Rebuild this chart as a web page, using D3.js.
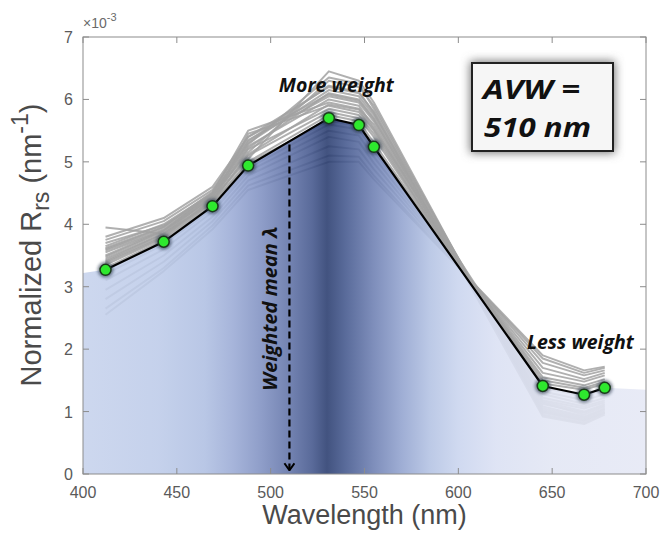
<!DOCTYPE html>
<html>
<head>
<meta charset="utf-8">
<script src="https://cdn.jsdelivr.net/npm/d3@7"></script>
<style>
body { margin: 0; background: #fff; }
</style>
</head>
<body>
<div id="chart"></div>
<script>
// MODIS-like bands (nm) and the mean normalized spectrum (x 1e-3 nm^-1)
var bands = [412, 443, 469, 488, 531, 547, 555, 645, 667, 678];
var meanRrs = [3.27, 3.72, 4.29, 4.94, 5.70, 5.59, 5.24, 1.41, 1.27, 1.38];
// flat shading continued to the plot edges
var edgeWavelengths = [400, 700];
var edgeValues = [3.22, 1.35];

// individual normalized spectra, grey lines
var spectra = [
  [3.38, 3.80, 4.40, 5.05, 6.45, 6.30, 5.95, 0.95, 0.82, 0.98],
  [3.45, 3.85, 4.45, 5.15, 6.30, 6.20, 5.90, 0.98, 0.85, 1.00],
  [3.55, 3.90, 4.50, 5.50, 5.95, 5.85, 5.60, 1.12, 0.98, 1.10],
  [3.95, 3.85, 4.35, 5.45, 5.90, 5.80, 5.50, 1.18, 1.05, 1.15],
  [3.75, 4.05, 4.55, 5.35, 6.05, 5.95, 5.65, 1.08, 0.92, 1.05],
  [3.65, 4.00, 4.50, 5.30, 6.15, 6.05, 5.75, 1.02, 0.88, 1.02],
  [3.60, 3.95, 4.45, 5.25, 6.00, 5.90, 5.55, 1.22, 1.08, 1.18],
  [3.50, 3.90, 4.40, 5.20, 5.85, 5.75, 5.45, 1.28, 1.12, 1.22],
  [3.42, 3.85, 4.38, 5.10, 5.80, 5.70, 5.40, 1.32, 1.18, 1.28],
  [3.80, 4.10, 4.60, 5.40, 6.20, 6.10, 5.80, 0.92, 0.80, 0.95],
  [3.35, 3.78, 4.35, 5.00, 5.75, 5.65, 5.30, 1.45, 1.35, 1.45],
  [3.20, 3.68, 4.25, 4.90, 5.60, 5.52, 5.18, 1.55, 1.42, 1.52],
  [3.10, 3.60, 4.20, 4.85, 5.50, 5.42, 5.08, 1.62, 1.48, 1.58],
  [2.95, 3.50, 4.12, 4.78, 5.40, 5.32, 4.98, 1.70, 1.52, 1.62],
  [2.80, 3.40, 4.05, 4.70, 5.25, 5.20, 4.88, 1.78, 1.58, 1.66],
  [2.65, 3.30, 3.98, 4.62, 5.10, 5.08, 4.78, 1.85, 1.62, 1.70],
  [2.55, 3.25, 3.92, 4.55, 5.00, 5.00, 4.72, 1.90, 1.66, 1.72],
  [3.70, 3.98, 4.48, 5.28, 6.35, 6.25, 5.85, 1.00, 0.86, 0.98],
  [3.58, 3.92, 4.42, 5.22, 6.10, 6.00, 5.70, 1.05, 0.90, 1.04],
  [3.48, 3.88, 4.47, 5.33, 6.22, 6.12, 5.78, 1.14, 0.95, 1.08],
  [3.62, 3.96, 4.52, 5.40, 6.08, 5.98, 5.68, 1.16, 1.00, 1.12],
  [3.40, 3.82, 4.36, 5.12, 5.92, 5.84, 5.52, 1.38, 1.25, 1.36],
  [3.30, 3.75, 4.32, 4.98, 5.66, 5.58, 5.24, 1.50, 1.38, 1.48]
];

var xTicks = [400, 450, 500, 550, 600, 650, 700];
var yTicks = [0, 1, 2, 3, 4, 5, 6, 7];
var avw = 510;

// shading colours across the spectrum (style)
var shadeStops = [
  [400, "#c6d2ec"], [440, "#bdcbe9"], [465, "#afbfe2"], [480, "#9aaad5"],
  [495, "#7f90c1"], [510, "#6072a7"], [522, "#43568c"], [530, "#283b6e"],
  [540, "#43578d"], [555, "#6d7fb2"], [570, "#92a3cf"], [585, "#b3c2e3"],
  [600, "#c9d4ee"], [620, "#dae0f3"], [650, "#e2e6f4"], [700, "#e5e8f5"]
];

var W = 662, H = 539;
var margin = {top: 37, right: 16, bottom: 65, left: 83};
var width = W - margin.left - margin.right,
    height = H - margin.top - margin.bottom;

var x = d3.scaleLinear().domain([400, 700]).range([0, width]);
var y = d3.scaleLinear().domain([0, 7]).range([height, 0]);

var svg = d3.select("#chart").append("svg")
    .attr("width", W)
    .attr("height", H);

var defs = svg.append("defs");

var grad = defs.append("linearGradient")
    .attr("id", "shade")
    .attr("gradientUnits", "userSpaceOnUse")
    .attr("x1", x(400)).attr("x2", x(700))
    .attr("y1", 0).attr("y2", 0);
grad.selectAll("stop").data(shadeStops).enter().append("stop")
    .attr("offset", function(d) { return (d[0] - 400) / 300; })
    .attr("stop-color", function(d) { return d[1]; });

defs.append("clipPath").attr("id", "plotclip")
  .append("rect").attr("width", width).attr("height", height);

var halo = defs.append("filter").attr("id", "halo")
    .attr("x", "-60%").attr("y", "-60%").attr("width", "220%").attr("height", "220%");
halo.append("feGaussianBlur").attr("stdDeviation", 1.6);

var glow = defs.append("filter").attr("id", "glow")
    .attr("x", "-20%").attr("y", "-30%").attr("width", "140%").attr("height", "160%");
glow.append("feGaussianBlur").attr("stdDeviation", 5);

defs.append("marker")
    .attr("id", "arrow")
    .attr("viewBox", "0 0 12 12")
    .attr("refX", 6).attr("refY", 11)
    .attr("markerWidth", 12).attr("markerHeight", 12)
    .attr("markerUnits", "userSpaceOnUse")
    .attr("orient", "0")
  .append("path")
    .attr("d", "M1,4 L6,11 L11,4")
    .attr("fill", "none")
    .attr("stroke", "#000")
    .attr("stroke-width", 2);

var g = svg.append("g")
    .attr("transform", "translate(" + margin.left + "," + margin.top + ")");

var plot = g.append("g").attr("clip-path", "url(#plotclip)");

var line = d3.line()
    .x(function(d) { return x(d[0]); })
    .y(function(d) { return y(d[1]); });

// grey spectra
plot.selectAll(".spec").data(spectra).enter().append("path")
    .attr("class", "spec")
    .attr("d", function(s) { return line(bands.map(function(b, i) { return [b, s[i]]; })); })
    .attr("fill", "none")
    .attr("stroke", "#a2a2a2")
    .attr("stroke-width", 2)
    .attr("stroke-linejoin", "round")
    .attr("stroke-opacity", 0.85);

// shaded area under mean spectrum
var meanPts = bands.map(function(b, i) { return [b, meanRrs[i]]; });
var areaPts = [[edgeWavelengths[0], edgeValues[0]]].concat(meanPts, [[edgeWavelengths[1], edgeValues[1]]]);
var area = d3.area()
    .x(function(d) { return x(d[0]); })
    .y0(y(0))
    .y1(function(d) { return y(d[1]); });
plot.append("path")
    .datum(areaPts)
    .attr("d", area)
    .attr("fill", "url(#shade)")
    .attr("fill-opacity", 0.88);

// weighted mean arrow
var topAtAvw = d3.scaleLinear().domain([488, 531]).range([4.94, 5.70])(avw);
plot.append("line")
    .attr("x1", x(avw)).attr("x2", x(avw))
    .attr("y1", y(topAtAvw - 0.05)).attr("y2", y(0.06))
    .attr("stroke", "#000")
    .attr("stroke-width", 2.2)
    .attr("stroke-dasharray", "7,4")
    .attr("marker-end", "url(#arrow)");

// mean line and points
plot.append("path")
    .datum(meanPts)
    .attr("d", line)
    .attr("fill", "none")
    .attr("stroke", "#000")
    .attr("stroke-width", 2.2);

plot.selectAll(".halo").data(meanPts).enter().append("circle")
    .attr("cx", function(d) { return x(d[0]); })
    .attr("cy", function(d) { return y(d[1]); })
    .attr("r", 8)
    .attr("fill", "#1d2b40")
    .attr("opacity", 0.55)
    .attr("filter", "url(#halo)");

plot.selectAll(".pt").data(meanPts).enter().append("circle")
    .attr("cx", function(d) { return x(d[0]); })
    .attr("cy", function(d) { return y(d[1]); })
    .attr("r", 5.5)
    .attr("fill", "#2ee82e")
    .attr("stroke", "#1a3a1a")
    .attr("stroke-width", 1.5);

// frame and inward ticks (matlab style)
var frameColor = "#8c8c8c";
g.append("rect")
    .attr("width", width).attr("height", height)
    .attr("fill", "none")
    .attr("stroke", frameColor)
    .attr("stroke-width", 1);

var tickLen = 6;
g.selectAll(".xtb").data(xTicks).enter().append("line")
    .attr("x1", function(d) { return x(d); }).attr("x2", function(d) { return x(d); })
    .attr("y1", height).attr("y2", height - tickLen)
    .attr("stroke", frameColor);
g.selectAll(".xtt").data(xTicks).enter().append("line")
    .attr("x1", function(d) { return x(d); }).attr("x2", function(d) { return x(d); })
    .attr("y1", 0).attr("y2", tickLen)
    .attr("stroke", frameColor);
g.selectAll(".ytl").data(yTicks).enter().append("line")
    .attr("x1", 0).attr("x2", tickLen)
    .attr("y1", function(d) { return y(d); }).attr("y2", function(d) { return y(d); })
    .attr("stroke", frameColor);
g.selectAll(".ytr").data(yTicks).enter().append("line")
    .attr("x1", width).attr("x2", width - tickLen)
    .attr("y1", function(d) { return y(d); }).attr("y2", function(d) { return y(d); })
    .attr("stroke", frameColor);

var tickFont = "'Liberation Sans', Arial, sans-serif";
g.selectAll(".xl").data(xTicks).enter().append("text")
    .attr("x", function(d) { return x(d); })
    .attr("y", height + 24)
    .attr("text-anchor", "middle")
    .attr("font-family", tickFont)
    .attr("font-size", 16)
    .attr("fill", "#5a5a5a")
    .text(function(d) { return d; });
g.selectAll(".yl").data(yTicks).enter().append("text")
    .attr("x", -10)
    .attr("y", function(d) { return y(d) + 6; })
    .attr("text-anchor", "end")
    .attr("font-family", tickFont)
    .attr("font-size", 16)
    .attr("fill", "#5a5a5a")
    .text(function(d) { return d; });

// exponent label
var expo = g.append("text")
    .attr("x", 0).attr("y", -9)
    .attr("font-family", tickFont)
    .attr("font-size", 14)
    .attr("fill", "#6a6a6a");
expo.append("tspan").text("\u00d710");
expo.append("tspan").attr("font-size", 11).attr("dy", -7).text("-3");

// axis titles
svg.append("text")
    .attr("x", margin.left + x(550))
    .attr("y", 524)
    .attr("text-anchor", "middle")
    .attr("font-family", tickFont)
    .attr("font-size", 27)
    .attr("fill", "#4a4a4a")
    .text("Wavelength (nm)");

var ylab = svg.append("text")
    .attr("transform", "translate(41,245) rotate(-90)")
    .attr("text-anchor", "middle")
    .attr("font-family", tickFont)
    .attr("font-size", 29)
    .attr("fill", "#4a4a4a");
ylab.append("tspan").text("Normalized R");
ylab.append("tspan").attr("font-size", 23).attr("dy", 8).text("rs");
ylab.append("tspan").attr("dy", -8).text(" (nm");
ylab.append("tspan").attr("font-size", 23).attr("dy", -13).text("-1");
ylab.append("tspan").attr("dy", 13).text(")");

// annotations
var noteFont = "'Open Sans', 'Noto Sans', sans-serif";
g.append("text")
    .attr("x", x(535)).attr("y", y(6.1) - 1)
    .attr("text-anchor", "middle")
    .attr("font-family", noteFont)
    .attr("font-weight", "bold")
    .attr("font-style", "italic")
    .attr("font-size", 19.5)
    .attr("fill", "#111")
    .text("More weight");
g.append("text")
    .attr("x", x(665)).attr("y", y(2.0))
    .attr("text-anchor", "middle")
    .attr("font-family", noteFont)
    .attr("font-weight", "bold")
    .attr("font-style", "italic")
    .attr("font-size", 19.5)
    .attr("fill", "#111")
    .text("Less weight");
g.append("text")
    .attr("transform", "translate(" + (x(avw) - 12) + "," + y(2.65) + ") rotate(-90)")
    .attr("text-anchor", "middle")
    .attr("font-family", noteFont)
    .attr("font-weight", "bold")
    .attr("font-style", "italic")
    .attr("font-size", 20)
    .attr("fill", "#111")
    .text("Weighted mean \u03bb");

// AVW box
var box = svg.append("g").attr("transform", "translate(472,63)");
box.append("rect")
    .attr("x", -2).attr("y", -2).attr("width", 145).attr("height", 92)
    .attr("fill", "#777")
    .attr("filter", "url(#glow)");
box.append("rect")
    .attr("width", 141).attr("height", 88)
    .attr("fill", "#f6f6f6")
    .attr("stroke", "#222")
    .attr("stroke-width", 2);
box.append("text")
    .attr("x", 11).attr("y", 36)
    .attr("font-family", noteFont)
    .attr("font-weight", "bold")
    .attr("font-style", "italic")
    .attr("font-size", 27)
    .attr("textLength", 97)
    .attr("lengthAdjust", "spacingAndGlyphs")
    .attr("fill", "#111")
    .text("AVW =");
box.append("text")
    .attr("x", 12).attr("y", 74)
    .attr("font-family", noteFont)
    .attr("font-weight", "bold")
    .attr("font-style", "italic")
    .attr("font-size", 27)
    .attr("textLength", 107)
    .attr("lengthAdjust", "spacingAndGlyphs")
    .attr("fill", "#111")
    .text(avw + " nm");
</script>
</body>
</html>
